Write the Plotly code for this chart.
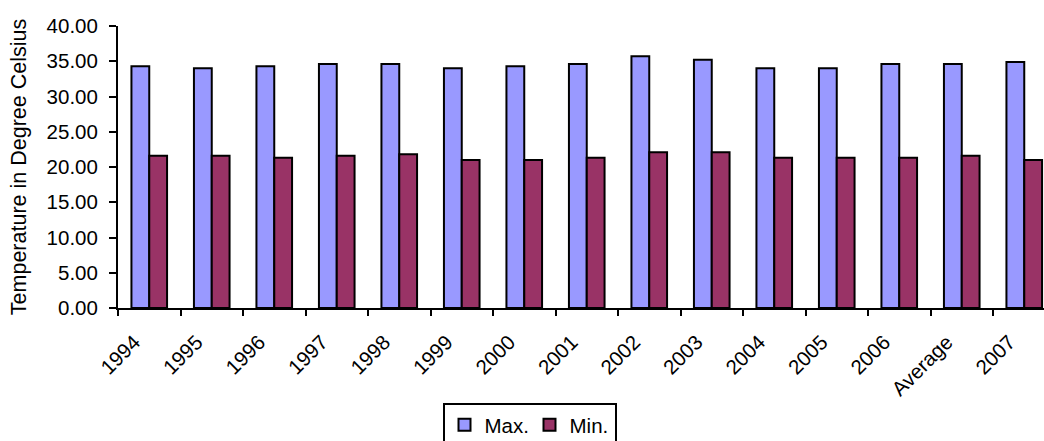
import plotly.graph_objects as go

# Yearly maximum and minimum temperatures (°C)
years = ["1994", "1995", "1996", "1997", "1998", "1999", "2000", "2001",
         "2002", "2003", "2004", "2005", "2006", "Average", "2007"]
max_temp = [34.3, 34.0, 34.3, 34.6, 34.6, 34.0, 34.3, 34.6,
            35.7, 35.2, 34.0, 34.0, 34.6, 34.6, 34.9]
min_temp = [21.6, 21.6, 21.3, 21.6, 21.8, 21.0, 21.0, 21.3,
            22.1, 22.1, 21.3, 21.3, 21.3, 21.6, 21.0]

y_ticks = [0, 5, 10, 15, 20, 25, 30, 35, 40]

FONT = "Liberation Sans, Arial, sans-serif"
W, H = 1044, 441
L, R, T, B = 118, 0, 26, 133

fig = go.Figure()
fig.add_trace(go.Bar(
    x=years, y=max_temp, name="Max.",
    marker=dict(color="#9999FF", line=dict(color="black", width=2)),
))
fig.add_trace(go.Bar(
    x=years, y=min_temp, name="Min.",
    marker=dict(color="#993366", line=dict(color="black", width=2)),
))

# category width in pixels, so the plot runs past the right edge
cat_px = 62.5
x_end = -0.5 + (W - L - R) / cat_px

fig.update_layout(
    width=W, height=H,
    margin=dict(l=L, r=R, t=T, b=B, autoexpand=False),
    paper_bgcolor="white", plot_bgcolor="white",
    font=dict(family=FONT, size=20.5, color="black"),
    barmode="group", bargap=0.43, bargroupgap=0,
    showlegend=True,
    legend=dict(
        orientation="h",
        xref="container", yref="container",
        x=529.5 / W, xanchor="center",
        y=1 - 403 / H, yanchor="top",
        bordercolor="black", borderwidth=2,
        bgcolor="white",
        font=dict(family=FONT, size=20.5, color="black"),
        itemwidth=30,
        entrywidth=40,
    ),
    xaxis=dict(
        type="category",
        range=[-0.5, x_end],
        showline=True, linecolor="black", linewidth=2,
        ticks="outside", ticklen=6, tickwidth=2, tickcolor="black",
        tickson="boundaries",
        tickangle=-45,
        tickfont=dict(family=FONT, size=20.5, color="black"),
        ticklabelshift=-15,
        ticklabelstandoff=12,
        showgrid=False, zeroline=False,
        automargin=False,
    ),
    yaxis=dict(
        range=[0, 40],
        tickvals=y_ticks,
        tickformat=".2f",
        showline=True, linecolor="black", linewidth=2,
        ticks="outside", ticklen=7, tickwidth=2, tickcolor="black",
        tickfont=dict(family=FONT, size=20.5, color="black"),
        ticklabelstandoff=7,
        showgrid=False, zeroline=False,
        automargin=False,
        title=dict(text="Temperature in Degree Celsius",
                   font=dict(family=FONT, size=21.5, color="black"),
                   standoff=14),
    ),
)

fig.write_html("out.html")
